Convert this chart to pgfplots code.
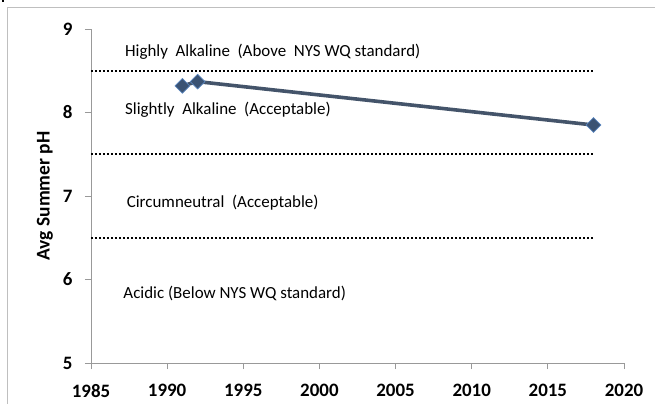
\documentclass[border=0pt]{standalone}
\usepackage{fontspec}
\setmainfont{Carlito}
\usepackage{pgfplots}
\pgfplotsset{compat=1.18}
\definecolor{phline}{HTML}{44546A}
\definecolor{phmark}{HTML}{3B5373}
\definecolor{phedge}{HTML}{5B86BE}
\definecolor{frame}{HTML}{BFBFBF}

\begin{document}
\begin{tikzpicture}
  \path[use as bounding box] (-91bp,-41bp) rectangle (564bp,363bp);
  % outer chart frame (only top and left visible)
  \draw[frame, line width=1bp] (-83bp,-41bp) -- (-83bp,355bp) -- (564bp,355bp);
  \fill (-89bp,361bp) rectangle (-87bp,363bp);
  \begin{axis}[
      at={(0,0)}, anchor=origin,
      scale only axis, width=533bp, height=334bp,
      xmin=1985, xmax=2020, ymin=5, ymax=9,
      xtick={1985,1990,...,2020}, ytick={5,6,7,8,9},
      axis x line*=bottom, axis y line*=left,
      axis line style={gray!80, line width=0.8bp, -},
      tick style={gray!80, line width=0.8bp},
      tick align=outside, major tick length=6bp,
      /pgf/number format/1000 sep={},
      /pgf/number format/assume math mode=true,
      tick label style={font=\fontsize{19}{22}\selectfont\bfseries},
      xticklabel style={yshift=-12bp},
      yticklabel style={xshift=-9bp},
      clip=false,
    ]
    % class boundaries
    \addplot[black, line width=1.6bp, dash pattern=on 1.6bp off 2.4bp] coordinates {(1985,8.5) (2018,8.5)};
    \addplot[black, line width=1.6bp, dash pattern=on 1.6bp off 2.4bp] coordinates {(1985,7.5) (2018,7.5)};
    \addplot[black, line width=1.6bp, dash pattern=on 1.6bp off 2.4bp] coordinates {(1985,6.5) (2018,6.5)};
    % observed pH
    \addplot[phline, line width=3.6bp, mark=square*, mark size=5.2bp,
      mark options={rotate=45, fill=phmark, draw=phedge, line width=0.7bp}]
      coordinates {(1991,8.32) (1992,8.37) (2018,7.85)};
    \begin{scope}[font=\fontsize{17}{20}\selectfont, inner sep=0pt]
      \node[anchor=base west] at (axis cs:1987.23,8.668) {Highly\ \ Alkaline\ \ (Above\ \ NYS WQ standard)};
      \node[anchor=base west] at (axis cs:1987.23,7.978) {Slightly\ \ Alkaline\ \ (Acceptable)};
      \node[anchor=base west] at (axis cs:1987.34,6.860) {Circumneutral\ \ (Acceptable)};
      \node[anchor=base west] at (axis cs:1987.12,5.775) {Acidic (Below NYS WQ standard)};
    \end{scope}
  \end{axis}
  \node[rotate=90, font=\fontsize{19.5}{23}\selectfont\bfseries] at (-46bp,167bp) {Avg Summer pH};
\end{tikzpicture}
\end{document}
